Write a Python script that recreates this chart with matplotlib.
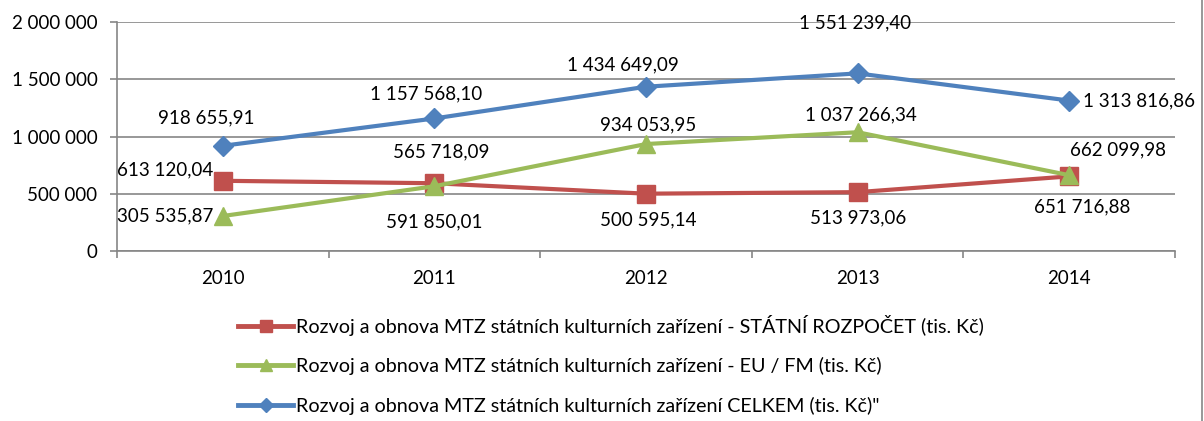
import matplotlib
matplotlib.use("Agg")
import matplotlib.pyplot as plt
from matplotlib.ticker import FuncFormatter, FixedLocator
from matplotlib.lines import Line2D

plt.rcParams["font.family"] = ["Lato", "DejaVu Sans"]

years = ["2010", "2011", "2012", "2013", "2014"]
state = [613120.04, 591850.01, 500595.14, 513973.06, 651716.88]
eu = [305535.87, 565718.09, 934053.95, 1037266.34, 662099.98]
total = [918655.91, 1157568.10, 1434649.09, 1551239.40, 1313816.86]

names = [
    "Rozvoj a obnova MTZ státních kulturních zařízení - STÁTNÍ ROZPOČET (tis. Kč)",
    "Rozvoj a obnova MTZ státních kulturních zařízení - EU / FM (tis. Kč)",
    "Rozvoj a obnova MTZ státních kulturních zařízení CELKEM (tis. Kč)\"",
]

RED, GREEN, BLUE = "#C0504D", "#9BBB59", "#4F81BD"
GRID = "#868686"
FS = 13.5

# label offsets in pixels (dx, dy, ha) per point
off_state = [(-10, 11, "right"), (0, -39, "center"), (2, -26, "center"),
             (1, -26, "center"), (13, -30, "center")]
off_eu = [(-9, 0, "right"), (7, 34, "center"), (2, 19, "center"),
          (3, 17, "center"), (49, 25, "center")]
off_total = [(-17, 28, "center"), (-8, 25, "center"), (-23, 22, "center"),
             (-3, 51, "center"), (14, 0, "left")]


def czfmt(v, dec=2):
    s = f"{v:,.{dec}f}".replace(",", " ").replace(".", ",")
    return s


fig = plt.figure(figsize=(12.04, 4.21), dpi=100)
ax = fig.add_axes([117 / 1204, 1 - 251 / 421, 1058 / 1204, 229 / 421])

x = list(range(len(years)))
series = [
    (state, RED, "s", 13, off_state),
    (eu, GREEN, "^", 13, off_eu),
    (total, BLUE, "D", 10, off_total),
]
for vals, col, mk, ms, offs in series:
    ax.plot(x, vals, color=col, lw=3, marker=mk, ms=ms, mec=col, mfc=col,
            zorder=3, solid_capstyle="round")
    for xi, v, (dx, dy, ha) in zip(x, vals, offs):
        ax.annotate(czfmt(v), (xi, v), xytext=(dx, dy),
                    textcoords="offset pixels", ha=ha, va="center",
                    fontsize=FS, color="black", zorder=5)

ax.set_xlim(-0.5, len(years) - 0.5)
ax.set_ylim(0, 2000000)
ax.set_yticks([0, 500000, 1000000, 1500000, 2000000])
ax.yaxis.set_major_formatter(FuncFormatter(
    lambda v, p: f"{int(v):,}".replace(",", " ")))
ax.grid(axis="y", color=GRID, lw=1.2)
ax.set_axisbelow(True)

ax.xaxis.set_major_locator(FixedLocator([i - 0.5 for i in range(len(years) + 1)]))
ax.xaxis.set_minor_locator(FixedLocator(x))
ax.set_xticklabels([], minor=False)
ax.set_xticklabels(years, minor=True)
ax.tick_params(axis="x", which="major", length=5, width=1.2, color=GRID)
ax.tick_params(axis="x", which="minor", length=0, pad=14, labelsize=FS)
ax.tick_params(axis="y", length=5, width=1.2, color=GRID, pad=9, labelsize=FS)

for s in ("top", "right"):
    ax.spines[s].set_visible(False)
for s in ("left", "bottom"):
    ax.spines[s].set_color(GRID)
    ax.spines[s].set_linewidth(1.2)

handles = [Line2D([], [], color=c, lw=3.5, marker=m, ms=ms, mec=c, mfc=c)
           for c, m, ms in [(RED, "s", 8), (GREEN, "^", 8), (BLUE, "D", 7)]]
fig.legend(handles, names, loc="upper left",
           bbox_to_anchor=(238 / 1204, 1 - 315 / 421),
           frameon=False, fontsize=14.2, handlelength=2.8, handletextpad=0.15,
           labelspacing=1.08, borderpad=0, borderaxespad=0)

fig.add_artist(Line2D([1202 / 1204, 1202 / 1204], [0, 1],
                      transform=fig.transFigure, color=GRID, lw=1.2))

fig.savefig("out.png", dpi=100)
